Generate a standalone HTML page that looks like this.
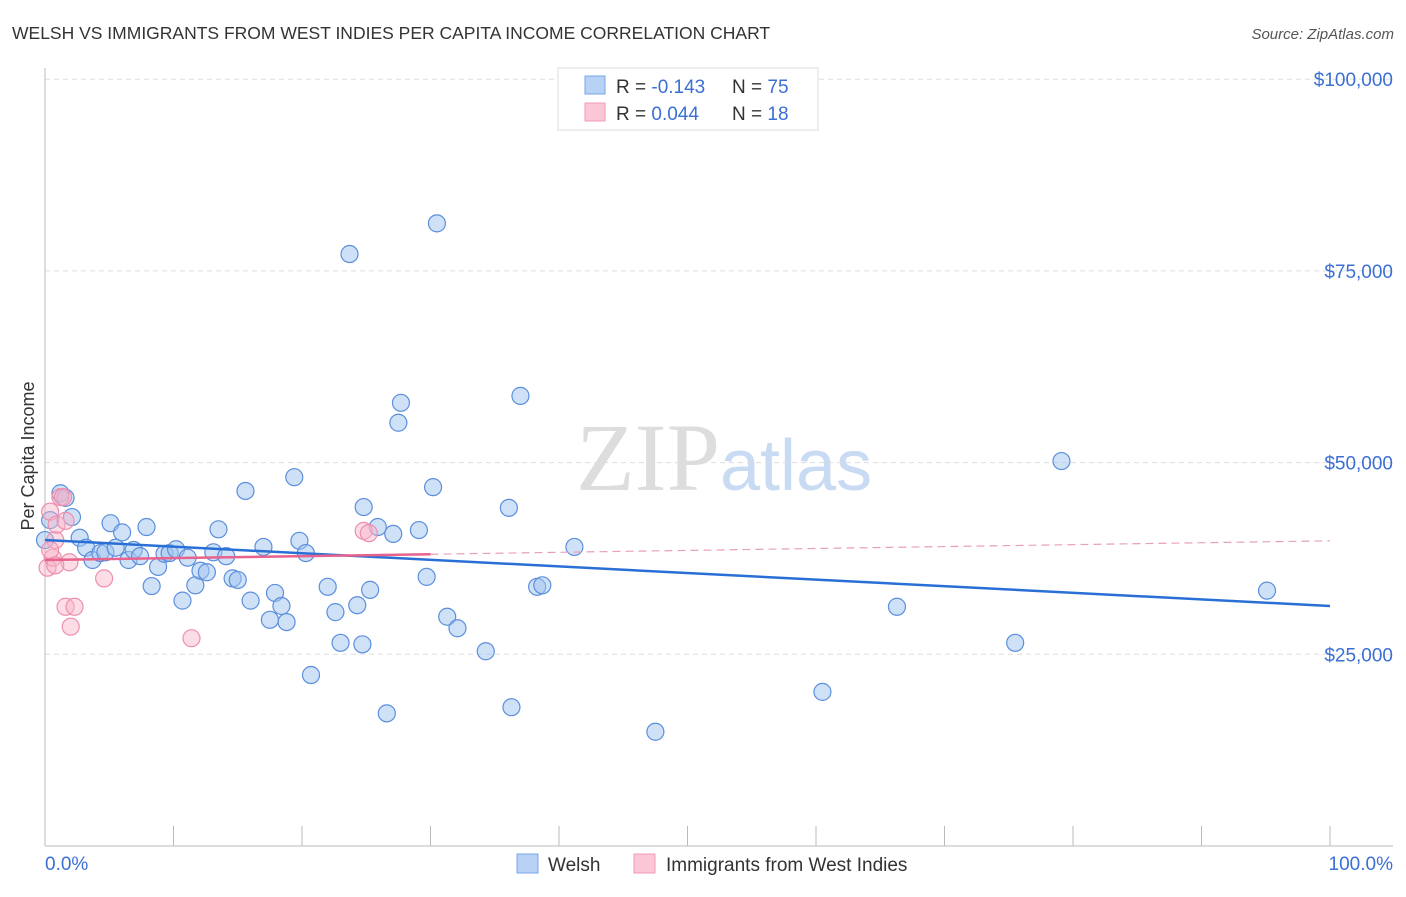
<!DOCTYPE html>
<html><head><meta charset="utf-8"><style>
body{margin:0;background:#fff;font-family:"Liberation Sans",sans-serif}
</style></head><body>
<svg id="c" width="1406" height="892" xmlns="http://www.w3.org/2000/svg" font-family="Liberation Sans, sans-serif">
<text x="12" y="39" font-size="17.5" fill="#333">WELSH VS IMMIGRANTS FROM WEST INDIES PER CAPITA INCOME CORRELATION CHART</text>
<text x="1394" y="39" font-size="15" font-style="italic" fill="#555" text-anchor="end">Source: ZipAtlas.com</text>
<text x="720" y="490" font-size="96" font-family="Liberation Serif, serif" fill="#ddd" text-anchor="end">ZIP</text>
<text x="720" y="490" font-size="72" fill="#c9daf3">atlas</text>
<text transform="translate(34,456) rotate(-90)" font-size="18" fill="#333" text-anchor="middle">Per Capita Income</text>
<g id="grid"></g><g id="pts"></g><g id="lines"></g>
<g>
<rect x="558" y="68" width="260" height="62" fill="#fff" stroke="#ddd"/>
<rect x="585" y="76" width="20" height="18" fill="#b8d2f5" stroke="#7aa6e6"/>
<rect x="585" y="103" width="20" height="18" fill="#fbc6d6" stroke="#f09ab5"/>
<text x="616" y="93" font-size="19" fill="#333">R = <tspan fill="#3b6fd4">-0.143</tspan></text>
<text x="732" y="93" font-size="19" fill="#333">N = <tspan fill="#3b6fd4">75</tspan></text>
<text x="616" y="120" font-size="19" fill="#333">R = <tspan fill="#3b6fd4"> 0.044</tspan></text>
<text x="732" y="120" font-size="19" fill="#333">N = <tspan fill="#3b6fd4"> 18</tspan></text>
</g>
<g>
<rect x="517" y="854" width="21" height="19" fill="#b8d2f5" stroke="#7aa6e6"/>
<text x="548" y="871" font-size="19" fill="#333">Welsh</text>
<rect x="634" y="854" width="21" height="19" fill="#fbc6d6" stroke="#f09ab5"/>
<text x="666" y="871" font-size="19" fill="#333">Immigrants from West Indies</text>
</g>
<text x="45" y="870" font-size="19" fill="#3b6fd4">0.0%</text>
<text x="1393" y="870" font-size="19" fill="#3b6fd4" text-anchor="end">100.0%</text>
</svg>
<script>
const yTicks=[25000,50000,75000,100000];
const yTickLabels=["$25,000","$50,000","$75,000","$100,000"];
const welshX=[1.2,1.6,2.1,2.7,3.2,3.7,4.3,4.7,5.1,5.5,6.0,6.5,6.9,7.4,7.9,8.3,8.8,9.3,9.7,10.2,10.7,11.1,11.7,12.1,12.6,13.1,13.5,14.1,14.6,15.0,15.6,16.0,17.0,17.5,17.9,18.4,18.8,19.4,19.8,20.3,20.7,22.0,22.6,23.0,23.7,24.3,24.7,24.8,25.3,25.9,26.6,27.1,27.5,27.7,29.1,29.7,30.2,30.5,31.3,32.1,34.3,36.1,36.3,37.0,38.3,38.7,41.2,47.5,60.5,66.3,75.5,79.1,95.1,0,0.4];
const welshY=[46000,45400,42900,40200,38900,37300,38200,38300,42100,38900,40900,37300,38600,37800,41600,33900,36400,38100,38200,38700,32000,37600,34000,35900,35700,38300,41300,37800,34900,34700,46300,32000,39000,29500,33000,31300,29200,48100,39800,38200,22300,33800,30500,26500,77200,31400,26300,44200,33400,41600,17300,40700,55200,57800,41200,35100,46800,81200,29900,28400,25400,44100,18100,58700,33800,34000,39000,14900,20100,31200,26500,50200,33300,39900,42500];
const wiX=[0.2,0.4,0.6,0.8,0.9,1.2,1.4,1.6,1.9,1.6,2.3,2.0,4.6,11.4,24.8,25.2,0.4,0.8];
const wiY=[36300,43600,37600,39900,41900,45500,45500,42400,37000,31200,31200,28600,34900,27100,41100,40800,38600,36600];
const welshTrend=[39900,31300];
const wiTrend=[37300,39800];
const NS="http://www.w3.org/2000/svg";
const xs=v=>45+v*12.85, ys=v=>846-v*191.7/25000;
function mk(t,a,p){const e=document.createElementNS(NS,t);for(const k in a)e.setAttribute(k,a[k]);document.getElementById(p).appendChild(e);return e;}
yTicks.forEach((t,i)=>{
 const l=mk('line',{x1:45,x2:1393,y1:ys(t),y2:ys(t),stroke:'#ddd','stroke-dasharray':'5,4'},'grid');
 
 
 const tx=mk('text',{x:1393,y:ys(t)+7,'font-size':19,fill:'#3b6fd4','text-anchor':'end'},'grid');
 tx.textContent=yTickLabels[i];
 
 
});
const ax=mk('line',{x1:45,x2:45,y1:68,y2:846,stroke:'#bbb'},'grid');


const bx=mk('line',{x1:45,x2:1393,y1:846,y2:846,stroke:'#bbb'},'grid');


for(let i=1;i<=10;i++){const t=mk('line',{x1:xs(i*10),x2:xs(i*10),y1:826,y2:846,stroke:'#bbb'},'grid');
 
 }
welshX.forEach((x,i)=>{const c=mk('circle',{cx:xs(x),cy:ys(welshY[i]),r:8.5,fill:'rgba(160,196,240,0.5)',stroke:'#5b8fdc','stroke-width':1.2},'pts');
 
 });
wiX.forEach((x,i)=>{const c=mk('circle',{cx:xs(x),cy:ys(wiY[i]),r:8.5,fill:'rgba(248,180,200,0.45)',stroke:'#ec8fae','stroke-width':1.2},'pts');
 
 });
const wl=mk('line',{x1:xs(0),x2:xs(100),y1:ys(welshTrend[0]),y2:ys(welshTrend[1]),stroke:'#2a6fd6','stroke-width':2.5},'lines');


const f=v=>wiTrend[0]+(wiTrend[1]-wiTrend[0])*v/100;
const p1=mk('line',{x1:xs(0),x2:xs(30),y1:ys(f(0)),y2:ys(f(30)),stroke:'#e8628e','stroke-width':2.5},'lines');


const p2=mk('line',{x1:xs(30),x2:xs(100),y1:ys(f(30)),y2:ys(f(100)),stroke:'#e8a0b8','stroke-width':1.2,'stroke-dasharray':'8,5'},'lines');


</script>
</body></html>
